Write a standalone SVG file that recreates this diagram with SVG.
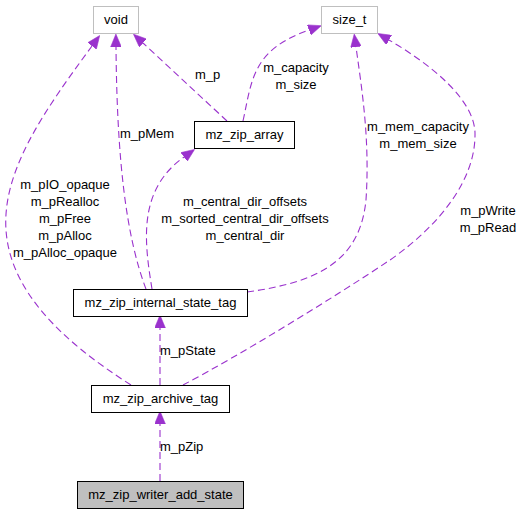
<svg xmlns="http://www.w3.org/2000/svg" width="523" height="515" viewBox="0 0 523 515">
<style>
text{font-family:"Liberation Sans",Arial,sans-serif;font-size:13px;fill:#000}
.n rect{fill:#fff;stroke:#000;stroke-width:1}
.n.ext rect{stroke:#bfbfbf}
.n.cur rect{fill:#bfbfbf}
.n text{text-anchor:middle}
.e path{fill:none;stroke:#9a32cd;stroke-width:1.1;stroke-dasharray:7,4;marker-end:url(#ah)}
.m{text-anchor:middle}
</style>
<defs>
<marker id="ah" markerUnits="userSpaceOnUse" markerWidth="13" markerHeight="11" viewBox="0 0 12 10" refX="0" refY="5" orient="auto">
<path d="M0,0 L12,5 L0,10 z" fill="#9a32cd" stroke="#9a32cd" stroke-width="0.5"/>
</marker>
</defs>
<rect width="523" height="515" fill="#fff"/>
<g id="connectors" class="e">
<path d="M160,481 L160,424"/>
<path d="M160,385 L160,328"/>
<path d="M131,385 C60,340 10,290 6,230 C2,170 45,110 92,46"/>
<path d="M146,289 C126,236 117,160 116,47"/>
<path d="M152,289 C144,240 138,190 184,157"/>
<path d="M247,292 C320,282 360,260 366,200 C370,140 362,90 356,47"/>
<path d="M183,385 C240,355 330,300 390,260 C440,225 475,180 475,135 C476,100 430,64 389,40"/>
<path d="M227,121 L143,43"/>
<path d="M243,121 C252,80 252,50 309,30"/>
</g>
<g id="labels">
<text x="160" y="450.5">m_pZip</text>
<text x="160" y="354.5">m_pState</text>
<text x="120" y="137.5">m_pMem</text>
<text x="195" y="79">m_p</text>
<text class="m" x="65" y="188.5">m_pIO_opaque</text>
<text class="m" x="65" y="205.7">m_pRealloc</text>
<text class="m" x="65" y="222.9">m_pFree</text>
<text class="m" x="65" y="240.1">m_pAlloc</text>
<text class="m" x="65" y="257.3">m_pAlloc_opaque</text>
<text class="m" x="245" y="206">m_central_dir_offsets</text>
<text class="m" x="245" y="223">m_sorted_central_dir_offsets</text>
<text class="m" x="245" y="240">m_central_dir</text>
<text class="m" x="418" y="130.5">m_mem_capacity</text>
<text class="m" x="418" y="147.5">m_mem_size</text>
<text class="m" x="488" y="215">m_pWrite</text>
<text class="m" x="488" y="232">m_pRead</text>
<text class="m" x="296" y="71.5">m_capacity</text>
<text class="m" x="296" y="88.5">m_size</text>
</g>
<g id="void" class="n ext"><rect x="93.5" y="6.5" width="45" height="27"/><text x="116" y="23.5">void</text></g>
<g id="size_t" class="n ext"><rect x="321.5" y="6.5" width="56" height="27"/><text x="349.5" y="23.5">size_t</text></g>
<g id="mz_zip_array" class="n"><rect x="194.5" y="121.5" width="100" height="27"/><text x="244.5" y="138.5">mz_zip_array</text></g>
<g id="mz_zip_internal_state_tag" class="n"><rect x="73.5" y="289.5" width="174" height="27"/><text x="160.5" y="306.5">mz_zip_internal_state_tag</text></g>
<g id="mz_zip_archive_tag" class="n"><rect x="91.5" y="385.5" width="138" height="27"/><text x="160.5" y="402.5">mz_zip_archive_tag</text></g>
<g id="mz_zip_writer_add_state" class="n cur"><rect x="77.5" y="481.5" width="166" height="27"/><text x="160.5" y="498.5">mz_zip_writer_add_state</text></g>
</svg>
